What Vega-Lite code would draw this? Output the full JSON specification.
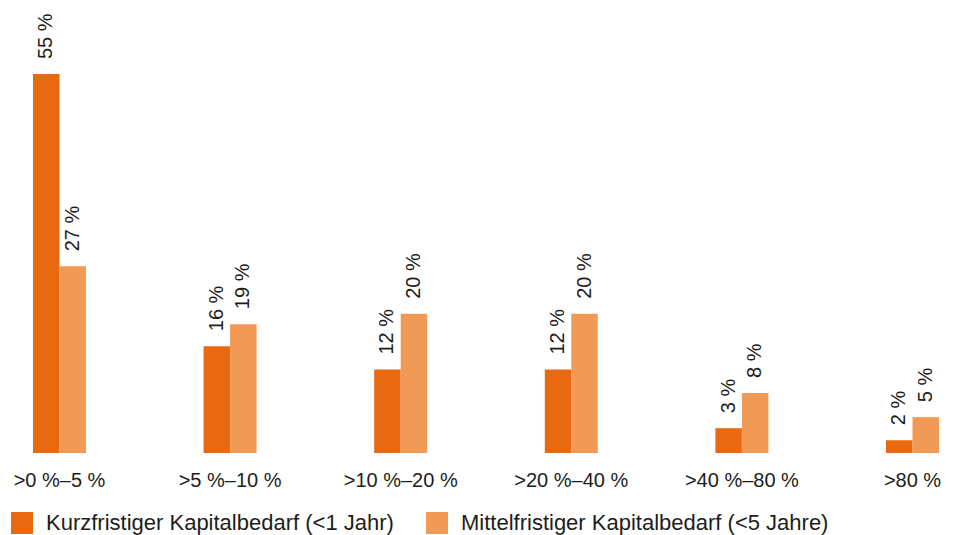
{
  "$schema": "https://vega.github.io/schema/vega-lite/v6.json",
  "width": 957,
  "height": 379,
  "autosize": "none",
  "padding": {"top": 74, "bottom": 82, "left": 0, "right": 0},
  "background": "#ffffff",
  "config": {
    "view": {"stroke": null},
    "font": "Liberation Sans"
  },
  "data": {
    "values": [
      {"cat": ">0 %–5 %", "series": "Kurzfristiger Kapitalbedarf (<1 Jahr)", "value": 55, "label": "55 %"},
      {"cat": ">0 %–5 %", "series": "Mittelfristiger Kapitalbedarf (<5 Jahre)", "value": 27.1, "label": "27 %"},
      {"cat": ">5 %–10 %", "series": "Kurzfristiger Kapitalbedarf (<1 Jahr)", "value": 15.5, "label": "16 %"},
      {"cat": ">5 %–10 %", "series": "Mittelfristiger Kapitalbedarf (<5 Jahre)", "value": 18.7, "label": "19 %"},
      {"cat": ">10 %–20 %", "series": "Kurzfristiger Kapitalbedarf (<1 Jahr)", "value": 12.1, "label": "12 %"},
      {"cat": ">10 %–20 %", "series": "Mittelfristiger Kapitalbedarf (<5 Jahre)", "value": 20.2, "label": "20 %"},
      {"cat": ">20 %–40 %", "series": "Kurzfristiger Kapitalbedarf (<1 Jahr)", "value": 12.1, "label": "12 %"},
      {"cat": ">20 %–40 %", "series": "Mittelfristiger Kapitalbedarf (<5 Jahre)", "value": 20.2, "label": "20 %"},
      {"cat": ">40 %–80 %", "series": "Kurzfristiger Kapitalbedarf (<1 Jahr)", "value": 3.6, "label": "3 %"},
      {"cat": ">40 %–80 %", "series": "Mittelfristiger Kapitalbedarf (<5 Jahre)", "value": 8.7, "label": "8 %"},
      {"cat": ">80 %", "series": "Kurzfristiger Kapitalbedarf (<1 Jahr)", "value": 1.85, "label": "2 %"},
      {"cat": ">80 %", "series": "Mittelfristiger Kapitalbedarf (<5 Jahre)", "value": 5.2, "label": "5 %"}
    ]
  },
  "encoding": {
    "x": {
      "field": "cat",
      "type": "nominal",
      "sort": [">0 %–5 %", ">5 %–10 %", ">10 %–20 %", ">20 %–40 %", ">40 %–80 %", ">80 %"],
      "scale": {"paddingInner": 0.6893, "paddingOuter": 0.1494, "align": 0.647},
      "axis": {
        "title": null,
        "domain": false,
        "ticks": false,
        "grid": false,
        "labelAngle": 0,
        "labelPadding": 17,
        "labelFontSize": 20,
        "labelFont": "Liberation Sans",
        "labelColor": "#1d1d1b"
      }
    },
    "xOffset": {
      "field": "series",
      "type": "nominal",
      "scale": {"paddingInner": 0, "paddingOuter": 0}
    },
    "y": {
      "field": "value",
      "type": "quantitative",
      "scale": {"domain": [0, 55], "nice": false, "zero": true},
      "axis": null
    }
  },
  "layer": [
    {
      "mark": {"type": "bar", "strokeWidth": 0},
      "encoding": {
        "color": {
          "field": "series",
          "type": "nominal",
          "scale": {
            "domain": ["Kurzfristiger Kapitalbedarf (<1 Jahr)", "Mittelfristiger Kapitalbedarf (<5 Jahre)"],
            "range": ["#E8690F", "#F19A56"]
          },
          "legend": {
            "title": null,
            "orient": "none",
            "legendX": 11,
            "legendY": 438,
            "direction": "horizontal",
            "padding": 0,
            "symbolType": "square",
            "symbolSize": 484,
            "symbolStrokeWidth": 0,
            "symbolOpacity": 1,
            "labelFontSize": 22,
            "labelFont": "Liberation Sans",
            "labelColor": "#1d1d1b",
            "labelOffset": 13,
            "labelLimit": 0,
            "columnPadding": 32
          }
        }
      }
    },
    {
      "mark": {
        "type": "text",
        "angle": 270,
        "align": "left",
        "baseline": "middle",
        "dx": 15,
        "fontSize": 20,
        "font": "Liberation Sans",
        "color": "#1d1d1b"
      },
      "encoding": {
        "text": {"field": "label", "type": "nominal"}
      }
    }
  ]
}
